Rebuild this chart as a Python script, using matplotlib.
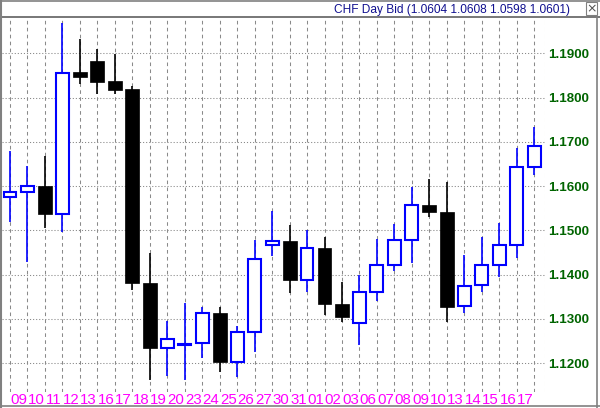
import matplotlib
matplotlib.use('Agg')
import matplotlib.pyplot as plt
from matplotlib.patches import Rectangle
from matplotlib.lines import Line2D

plt.rcParams['lines.scale_dashes'] = False
plt.rcParams['font.family'] = ['Liberation Sans', 'DejaVu Sans']

# ---- data ----
dates = ['09', '10', '11', '12', '13', '16', '17', '18', '19', '20',
         '23', '24', '25', '26', '27', '30', '31', '01', '02', '03',
         '06', '07', '08', '09', '10', '13', '14', '15', '16', '17']
opens = [1.1576, 1.1586, 1.1601, 1.1536, 1.1858, 1.1883, 1.1837, 1.1819, 1.1380, 1.1233,
         1.1241, 1.1245, 1.1314, 1.1203, 1.1269, 1.1466, 1.1475, 1.1388, 1.1461, 1.1334,
         1.1291, 1.1361, 1.1421, 1.1477, 1.1557, 1.1541, 1.1329, 1.1376, 1.1421, 1.1466, 1.1642]
closes = [1.1587, 1.1600, 1.1536, 1.1855, 1.1846, 1.1836, 1.1816, 1.1381, 1.1233, 1.1255,
          1.1244, 1.1312, 1.1203, 1.1269, 1.1435, 1.1475, 1.1388, 1.1461, 1.1333, 1.1305,
          1.1360, 1.1421, 1.1477, 1.1558, 1.1541, 1.1327, 1.1375, 1.1421, 1.1466, 1.1644, 1.1690]
highs = [1.1680, 1.1646, 1.1668, 1.1969, 1.1932, 1.1910, 1.1899, 1.1826, 1.1449, 1.1295,
         1.1335, 1.1327, 1.1327, 1.1284, 1.1478, 1.1544, 1.1513, 1.1501, 1.1484, 1.1383,
         1.1400, 1.1480, 1.1514, 1.1598, 1.1616, 1.1609, 1.1444, 1.1484, 1.1516, 1.1685, 1.1734]
lows = [1.1519, 1.1428, 1.1505, 1.1496, 1.1830, 1.1808, 1.1808, 1.1365, 1.1162, 1.1171,
        1.1162, 1.1211, 1.1180, 1.1168, 1.1226, 1.1442, 1.1359, 1.1361, 1.1309, 1.1293,
        1.1241, 1.1340, 1.1408, 1.1425, 1.1531, 1.1293, 1.1314, 1.1361, 1.1394, 1.1437, 1.1625]
price_ticks = [1.12, 1.13, 1.14, 1.15, 1.16, 1.17, 1.18, 1.19]
title = "CHF Day Bid (1.0604 1.0608 1.0598 1.0601)"

W, H = 600, 408
fig = plt.figure(figsize=(W / 100, H / 100), dpi=100)
fig.patch.set_facecolor('white')

# axes in pixel geometry
L, R, T, B = 2, 545, 17, 392
ax = fig.add_axes([L / W, (H - B) / H, (R - L) / W, (B - T) / H])
ax.set_facecolor('white')

n = len(opens)
xs = list(range(n))
ax.set_xlim(-0.458, 30.62)
ax.set_ylim(1.11345, 1.1982)

blue = '#0000FF'
for i in xs:
    o, c, h, l = opens[i], closes[i], highs[i], lows[i]
    up = c >= o
    col = blue if up else 'black'
    ax.vlines(i, l, h, color=col, linewidth=1.2, zorder=3)
    bottom = min(o, c)
    height = max(abs(c - o), 0.00008)
    if up:
        ax.bar(i, height, bottom=bottom, width=0.74, facecolor='white',
               edgecolor=blue, linewidth=1.5, zorder=4)
    else:
        ax.bar(i, height, bottom=bottom, width=0.8, facecolor='black',
               edgecolor='black', linewidth=0.5, zorder=4)

# grid
ax.set_xticks(xs)
ax.set_xticklabels([])
ax.set_xticks([k + 0.5 for k in range(len(dates))], minor=True)
ax.set_xticklabels(dates, minor=True, color='#FF00FF', fontsize=10.8)
ax.tick_params(axis='x', which='both', length=0, pad=0.5)
for i in xs:
    ax.axvline(i, color='#8a8a8a', linewidth=0.75, linestyle=(0, (2.6, 2.4)), zorder=1)
for p in price_ticks:
    ax.axhline(p, color='#8a8a8a', linewidth=0.75, linestyle=(0, (0.8, 1.4)), zorder=1)
ax.axvline(30.62, color='#d8d0a8', linewidth=0.75, linestyle=(0, (2.6, 2.4)), zorder=1)

ax.yaxis.tick_right()
ax.set_yticks(price_ticks)
ax.set_yticklabels([f'{p:.4f}' for p in price_ticks], color='#006400',
                   fontsize=9.6, fontweight='bold')
ax.tick_params(axis='y', length=0, pad=2)
for s in ax.spines.values():
    s.set_visible(False)

# title bar
fig.text(570 / W, 1 - 9.5 / H, title, ha='right', va='center',
         color='#101090', fontsize=8.6)
fig.patches.append(Rectangle((586 / W, 1 - 15 / H), 11 / W, 13 / H,
                             transform=fig.transFigure, facecolor='white',
                             edgecolor='#808080', linewidth=0.8))
fig.text(591.5 / W, 1 - 8.5 / H, '×', ha='center', va='center',
         color='#505050', fontsize=9, family=['DejaVu Sans'])

# window frame lines
g = '#808080'
fig.lines.append(Line2D([0, 1], [1 - 0.5 / H, 1 - 0.5 / H], transform=fig.transFigure, color=g, lw=1.2))
fig.lines.append(Line2D([0, 1], [1 - 16.5 / H, 1 - 16.5 / H], transform=fig.transFigure, color='#606060', lw=1.2))
fig.lines.append(Line2D([1 / W, 1 / W], [0, 1], transform=fig.transFigure, color=g, lw=1.5))
fig.lines.append(Line2D([596.5 / W, 596.5 / W], [0, 1 - 17 / H], transform=fig.transFigure, color=g, lw=1.2))
fig.lines.append(Line2D([0, 1], [2.5 / H, 2.5 / H], transform=fig.transFigure, color=g, lw=1.2))

fig.savefig('out.png', dpi=100, facecolor='white')
